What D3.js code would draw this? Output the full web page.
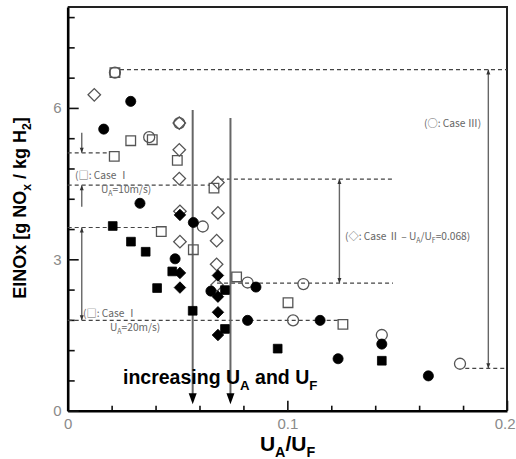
<!DOCTYPE html>
<html>
<head>
<meta charset="utf-8">
<script src="https://cdn.jsdelivr.net/npm/d3@7"></script>
<style>
  body { margin: 0; background: #fff; }
  svg { display: block; }
</style>
</head>
<body>
<svg id="chart" width="516" height="459"></svg>
<script>
// ---- data: [UA/UF, EINOx] ----
const caseIOpenSquares = [
  [0.0215, 6.70], [0.0287, 5.35], [0.0385, 5.37], [0.0212, 5.04], [0.0499, 4.96],
  [0.0666, 4.41], [0.0426, 3.55], [0.0572, 3.19], [0.0769, 2.65], [0.1003, 2.14],
  [0.1253, 1.71]
];
const caseIIOpenDiamonds = [
  [0.0121, 6.26], [0.0508, 5.70], [0.0508, 5.17], [0.0508, 4.60], [0.0511, 3.95],
  [0.0511, 3.35], [0.0684, 4.52], [0.0684, 3.92], [0.0678, 3.37], [0.0678, 2.90],
  [0.0680, 2.49]
];
const caseIIIOpenCircles = [
  [0.0215, 6.70], [0.0371, 5.42], [0.0508, 5.70], [0.0615, 3.65], [0.0819, 2.54],
  [0.1073, 2.51], [0.1026, 1.79], [0.1430, 1.50], [0.1786, 0.93]
];
const solidSquares = [
  [0.0205, 3.66], [0.0288, 3.35], [0.0355, 3.15], [0.0476, 2.76], [0.0407, 2.43],
  [0.0569, 1.98], [0.0716, 2.39], [0.0716, 1.62], [0.0956, 1.23], [0.1430, 0.99]
];
const solidCircles = [
  [0.0164, 5.58], [0.0287, 6.13], [0.0329, 4.11], [0.0489, 3.01], [0.0572, 3.73],
  [0.0652, 2.37], [0.0857, 2.45], [0.0819, 1.79], [0.1149, 1.79], [0.1231, 1.03],
  [0.1430, 1.32], [0.1642, 0.69]
];
const solidDiamonds = [
  [0.0511, 3.88], [0.0511, 2.73], [0.0511, 2.44], [0.0684, 2.68], [0.0684, 2.26],
  [0.0684, 1.95], [0.0684, 1.50]
];

// ---- axes ----
const xMajorTicks = [0, 0.1, 0.2];
const xMinorTicks = [0.02, 0.04, 0.06, 0.08, 0.12, 0.14, 0.16, 0.18];
const yMajorTicks = [0, 3, 6];
const yMinorTicks = [0.6, 1.2, 1.8, 2.4, 3.6, 4.2, 4.8, 5.4, 6.6, 7.2, 7.8];

// ---- range annotations ----
const rangeLines = [           // dashed levels: y, from x0 to x1
  { y: 6.76, x0: 0.0238, x1: 0.2 },
  { y: 5.11, x0: 0,      x1: 0.0193 },
  { y: 4.47, x0: 0,      x1: 0.0648 },
  { y: 4.59, x0: 0.0693, x1: 0.1481 },
  { y: 3.63, x0: 0,      x1: 0.0407 },
  { y: 2.53, x0: 0.0680, x1: 0.1481 },
  { y: 1.79, x0: 0,      x1: 0.1230 },
  { y: 0.84, x0: 0.1810, x1: 0.2 }
];
const spanArrows = [           // double-headed ranges
  { x: 0.1915, y0: 6.76, y1: 0.84 },
  { x: 0.1237, y0: 4.59, y1: 2.53 },
  { x: 0.0064, y0: 3.63, y1: 1.79 }
];
const pointerArrows = [        // single arrows pointing at a level
  { x: 0.0064, from: 5.51, to: 5.11 },
  { x: 0.0064, from: 4.04, to: 4.47 }
];
const trendArrows = [
  { x: 0.0569, from: 5.96, to: 0.13 },
  { x: 0.0741, from: 5.80, to: 0.13 }
];

const W = 516, H = 459;
const margin = { left: 67.7, right: 9, top: 7, bottom: 48.3 };
const x = d3.scaleLinear().domain([0, 0.2]).range([margin.left, W - margin.right]);
const y = d3.scaleLinear().domain([0, 8]).range([H - margin.bottom, margin.top]);

const svg = d3.select("#chart");
const labelFont = "Arial, 'Liberation Sans', sans-serif";
const noteFont = "'Noto Sans CJK KR', 'Noto Sans', sans-serif";

// frame (top and right)
svg.append("path")
  .attr("d", `M${x(0)},${y(8)}H${x(0.2)}V${y(0)}`)
  .attr("fill", "none").attr("stroke", "#222").attr("stroke-width", 2);

// minor ticks
svg.append("g").attr("transform", `translate(0,${y(0)})`)
  .call(d3.axisBottom(x).tickValues(xMinorTicks).tickSize(-5).tickFormat(""))
  .call(g => g.select(".domain").remove());
svg.append("g").attr("transform", `translate(${x(0)},0)`)
  .call(d3.axisLeft(y).tickValues(yMinorTicks).tickSize(-7).tickFormat(""))
  .call(g => g.select(".domain").remove());

// major ticks with labels
const xAxis = svg.append("g").attr("transform", `translate(0,${y(0)})`)
  .call(d3.axisBottom(x).tickValues(xMajorTicks).tickSize(-10).tickSizeOuter(0)
    .tickPadding(8).tickFormat(d => d === 0 ? "0" : d3.format(".1f")(d)));
const yAxis = svg.append("g").attr("transform", `translate(${x(0)},0)`)
  .call(d3.axisLeft(y).tickValues(yMajorTicks).tickSize(-11).tickSizeOuter(0)
    .tickPadding(6).tickFormat(d3.format("d")));

svg.selectAll(".tick line").attr("stroke", "#111").attr("stroke-width", 1.6);
[xAxis, yAxis].forEach(a => {
  a.select(".domain").attr("stroke", "#000").attr("stroke-width", 2.6);
  a.selectAll("text").attr("font-family", labelFont).attr("font-size", 15)
    .attr("fill", "#8a8a8a");
});
// last x label sits against the right edge of the page
xAxis.selectAll(".tick").filter(d => d === 0.2).select("text")
  .attr("text-anchor", "end").attr("x", 8);

// text with subscripts
function richText(parent, parts, opts) {
  const t = parent.append("text")
    .attr("font-family", opts.family)
    .attr("font-size", opts.size)
    .attr("font-weight", opts.weight || "normal")
    .attr("fill", opts.fill || "#000")
    .attr("text-anchor", opts.anchor || "start");
  if (opts.transform) t.attr("transform", opts.transform);
  else t.attr("x", opts.x).attr("y", opts.y);
  const shift = opts.size * 0.3;
  let low = false;
  parts.forEach(p => {
    const s = t.append("tspan").text(p.t);
    if (p.sub && !low) { s.attr("dy", shift).attr("font-size", opts.size * 0.68); low = true; }
    else if (p.sub) { s.attr("font-size", opts.size * 0.68); }
    else if (low) { s.attr("dy", -shift); low = false; }
  });
  return t;
}

// dashed levels
svg.append("g").selectAll("line").data(rangeLines).join("line")
  .attr("x1", d => x(d.x0)).attr("x2", d => x(d.x1))
  .attr("y1", d => y(d.y)).attr("y2", d => y(d.y))
  .attr("stroke", "#444").attr("stroke-width", 1.2).attr("stroke-dasharray", "4,3");

// arrow helpers
function head(px, py, dir, w, h) {   // dir: 1 = pointing down, -1 = up
  return `M${px},${py}L${px - w / 2},${py - dir * h}L${px + w / 2},${py - dir * h}Z`;
}
const ann = svg.append("g");
spanArrows.forEach(a => {
  const px = x(a.x), top = y(a.y0), bot = y(a.y1);
  ann.append("line").attr("x1", px).attr("x2", px).attr("y1", top).attr("y2", bot)
    .attr("stroke", "#666").attr("stroke-width", 1.4);
  ann.append("path").attr("d", head(px, top, -1, 4, 5)).attr("fill", "#333");
  ann.append("path").attr("d", head(px, bot, 1, 4, 5)).attr("fill", "#333");
});
pointerArrows.forEach(a => {
  const px = x(a.x), y0 = y(a.from), y1 = y(a.to);
  const dir = y1 > y0 ? 1 : -1;
  ann.append("line").attr("x1", px).attr("x2", px).attr("y1", y0).attr("y2", y1)
    .attr("stroke", "#666").attr("stroke-width", 1.4);
  ann.append("path").attr("d", head(px, y1, dir, 4, 5)).attr("fill", "#333");
});
trendArrows.forEach(a => {
  const px = x(a.x), y0 = y(a.from), y1 = y(a.to);
  ann.append("line").attr("x1", px).attr("x2", px).attr("y1", y0).attr("y2", y1 - 8)
    .attr("stroke", "#666").attr("stroke-width", 2);
  ann.append("path").attr("d", head(px, y1, 1, 8, 11)).attr("fill", "#000");
});

// markers
function drawSeries(data, type, size, filled, rotate) {
  const sym = d3.symbol().type(type).size(size);
  svg.append("g").selectAll("path").data(data).join("path")
    .attr("d", sym)
    .attr("transform", d => `translate(${x(d[0])},${y(d[1])})${rotate ? " rotate(45)" : ""}`)
    .attr("fill", filled ? "#000" : "none")
    .attr("stroke", filled ? "#000" : "#555")
    .attr("stroke-width", filled ? 0.8 : 1.3);
}
drawSeries(caseIOpenSquares, d3.symbolSquare, 92, false, false);
drawSeries(caseIIOpenDiamonds, d3.symbolSquare, 78, false, true);
drawSeries(caseIIIOpenCircles, d3.symbolCircle, 95, false, false);
drawSeries(solidSquares, d3.symbolSquare, 76, true, false);
drawSeries(solidCircles, d3.symbolCircle, 80, true, false);
drawSeries(solidDiamonds, d3.symbolSquare, 66, true, true);

// case notes
const note = { family: noteFont, size: 10.2, fill: "#666" };
richText(svg, [{ t: "(□: Case Ⅰ" }], { ...note, x: 75, y: 178.5 });
richText(svg, [{ t: "U" }, { t: "A", sub: true }, { t: "=10m/s)" }], { ...note, x: 101, y: 193 });
richText(svg, [{ t: "(□: Case Ⅰ" }], { ...note, x: 83, y: 317 });
richText(svg, [{ t: "U" }, { t: "A", sub: true }, { t: "=20m/s)" }], { ...note, x: 110, y: 331 });
richText(svg, [{ t: "(◇: Case Ⅱ – U" }, { t: "A", sub: true }, { t: "/U" }, { t: "F", sub: true }, { t: "=0.068)" }],
  { ...note, x: 345, y: 239.5 });
richText(svg, [{ t: "(○: Case Ⅲ)" }], { ...note, x: 424, y: 126.5 });

// trend caption
richText(svg, [{ t: "increasing U" }, { t: "A", sub: true }, { t: " and U" }, { t: "F", sub: true }],
  { family: labelFont, size: 19.5, weight: "bold", x: 123, y: 384 });

// axis titles
richText(svg, [{ t: "U" }, { t: "A", sub: true }, { t: "/U" }, { t: "F", sub: true }],
  { family: labelFont, size: 21, weight: "bold", anchor: "middle", x: 287.5, y: 451 });
richText(svg, [{ t: "EINOx [g NO" }, { t: "x", sub: true }, { t: " / kg H" }, { t: "2", sub: true }, { t: "]" }],
  { family: labelFont, size: 18, weight: "bold", anchor: "middle", transform: "translate(26,208) rotate(-90)" });
</script>
</body>
</html>
